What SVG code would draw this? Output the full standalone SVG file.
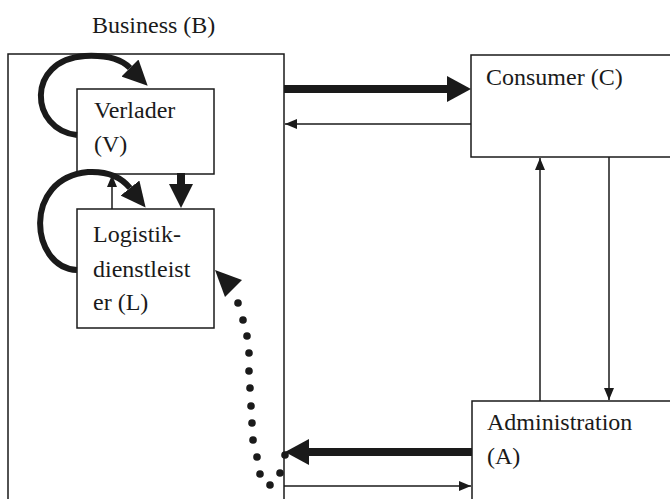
<svg xmlns="http://www.w3.org/2000/svg" width="670" height="499" viewBox="0 0 670 499">
<style>
.box{fill:#fff;stroke:#1a1a1a;stroke-width:1.5}
.t{font-family:"Liberation Serif","Times New Roman",serif;font-size:24px;fill:#1a1a1a}
.thin{stroke:#1a1a1a;stroke-width:1.5;fill:none}
.thick{stroke:#1a1a1a;stroke-width:8;fill:none}
.loop{stroke:#1a1a1a;stroke-width:6;fill:none}
.dot{fill:#1a1a1a}
</style>
<defs>
<marker id="big" markerUnits="userSpaceOnUse" viewBox="0 0 24 26" refX="0" refY="13" markerWidth="24" markerHeight="26" orient="auto"><path d="M0,0 L24,13 L0,26 z" fill="#1a1a1a"/></marker>
<marker id="loophead" markerUnits="userSpaceOnUse" viewBox="0 0 25 24" refX="0" refY="12" markerWidth="25" markerHeight="24" orient="auto"><path d="M0,0 L25,12 L0,24 z" fill="#1a1a1a"/></marker>
<marker id="small" markerUnits="userSpaceOnUse" viewBox="0 0 12 10" refX="12" refY="5" markerWidth="12" markerHeight="10" orient="auto"><path d="M0,0 L12,5 L0,10 z" fill="#1a1a1a"/></marker>
</defs>
<rect width="670" height="499" fill="#fff"/>
<g id="business">
<rect class="box" x="8" y="54" width="276" height="460"/>
<text class="t" x="92" y="33">Business (B)</text>
</g>
<g id="verlader">
<rect class="box" x="77" y="89" width="137" height="85"/>
<text class="t" x="94" y="118">Verlader</text>
<text class="t" x="94" y="152">(V)</text>
</g>
<g id="logistik">
<rect class="box" x="77" y="209" width="137" height="119"/>
<text class="t" x="93" y="242">Logistik-</text>
<text class="t" x="93" y="277">dienstleist</text>
<text class="t" x="93" y="310">er (L)</text>
</g>
<g id="consumer">
<rect class="box" x="471" y="55" width="210" height="102"/>
<text class="t" x="486" y="85">Consumer (C)</text>
</g>
<g id="administration">
<rect class="box" x="472" y="401" width="210" height="110"/>
<text class="t" x="487" y="430">Administration</text>
<text class="t" x="487" y="464">(A)</text>
</g>
<g id="connectors">
<path class="loop" d="M77,135 C30,130 25,60 85,56 C105,55 120,58 130,68" marker-end="url(#loophead)"/>
<path class="loop" d="M77,270 C30,268 22,178 88,172 C108,171 122,178 130,188" marker-end="url(#loophead)"/>
<line class="thick" x1="181" y1="173" x2="181" y2="185"/>
<polygon points="169,184 193,184 181,208" fill="#1a1a1a"/>
<line class="thin" x1="112" y1="209" x2="112" y2="175" marker-end="url(#small)"/>
<line class="thick" x1="284" y1="89" x2="447" y2="89" marker-end="url(#big)"/>
<line class="thin" x1="471" y1="124" x2="285" y2="124" marker-end="url(#small)"/>
<line class="thin" x1="540" y1="401" x2="540" y2="158" marker-end="url(#small)"/>
<line class="thin" x1="609" y1="157" x2="609" y2="400" marker-end="url(#small)"/>
<line class="thick" x1="472" y1="452" x2="309" y2="452" marker-end="url(#big)"/>
<line class="thin" x1="284" y1="486" x2="471" y2="486" marker-end="url(#small)"/>
<g class="dot">
<polygon points="215,270 242,280 225,297"/>
<circle cx="238" cy="303" r="3.8"/>
<circle cx="243" cy="320" r="3.8"/>
<circle cx="247" cy="336" r="3.8"/>
<circle cx="249" cy="353" r="3.8"/>
<circle cx="249" cy="371" r="3.8"/>
<circle cx="250" cy="388" r="3.8"/>
<circle cx="251" cy="406" r="3.8"/>
<circle cx="252" cy="423" r="3.8"/>
<circle cx="253" cy="440" r="3.8"/>
<circle cx="257" cy="457" r="3.8"/>
<circle cx="260" cy="474" r="3.8"/>
<circle cx="270" cy="485" r="3.8"/>
<circle cx="280" cy="473" r="3.8"/>
<circle cx="285" cy="455" r="3.8"/>
</g>
</g>
</svg>
